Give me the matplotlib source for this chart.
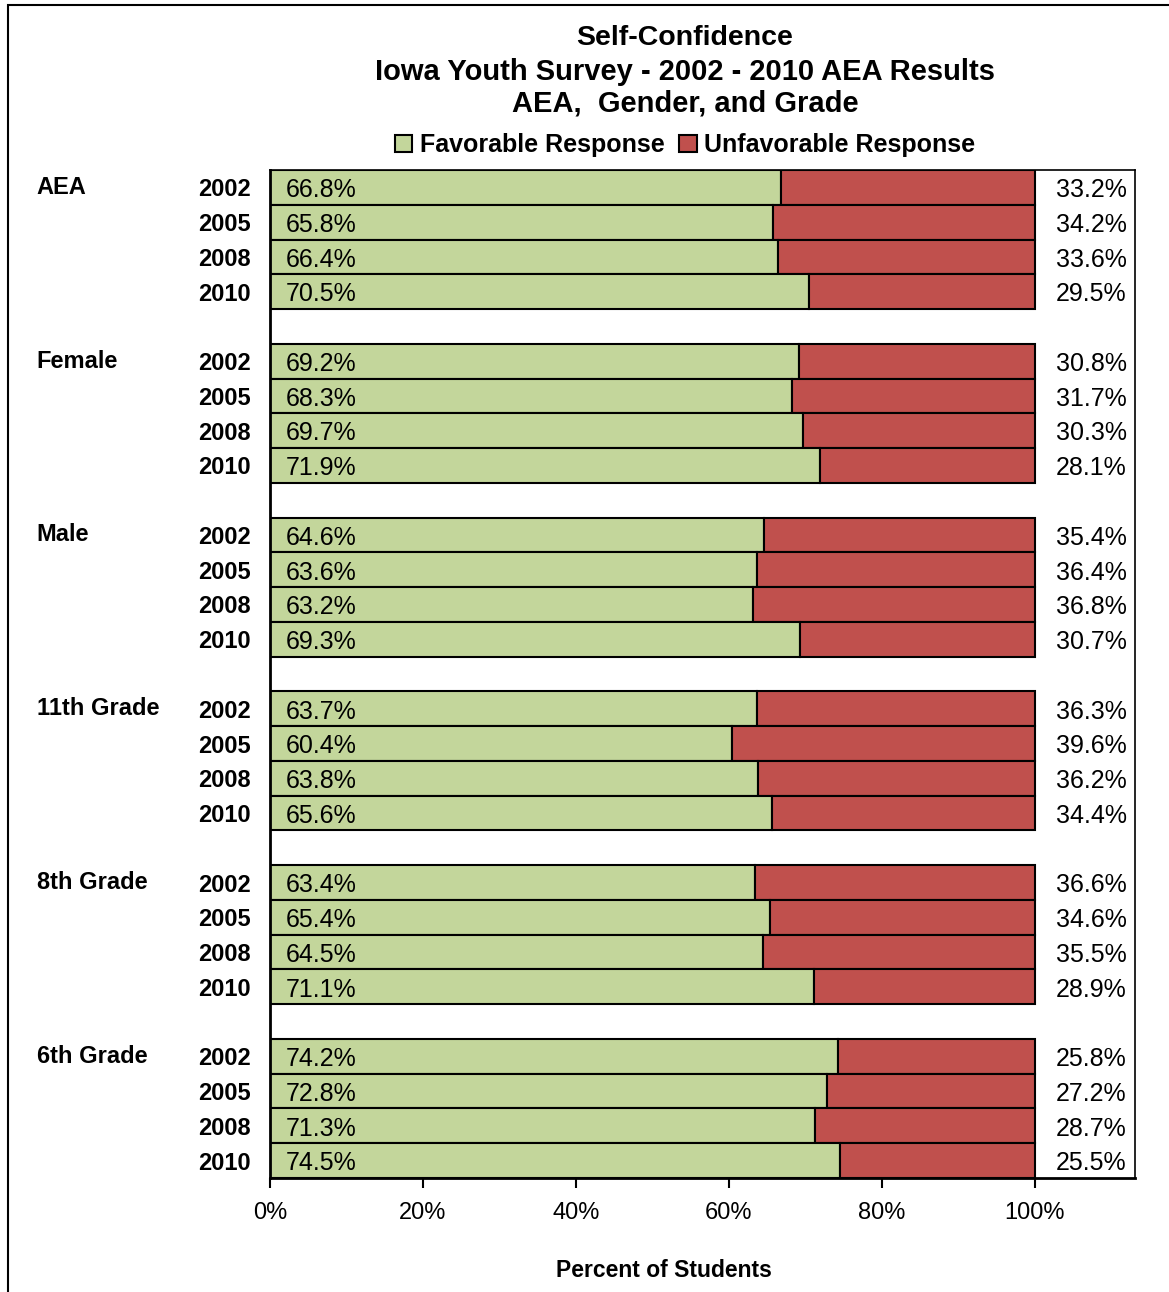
import matplotlib.pyplot as plt
import matplotlib.patches as mpatches

plt.rcParams['font.family'] = ['Liberation Sans', 'DejaVu Sans']

groups = ['AEA', 'Female', 'Male', '11th Grade', '8th Grade', '6th Grade']
years = ['2002', '2005', '2008', '2010']
favorable = [
    [66.8, 65.8, 66.4, 70.5],
    [69.2, 68.3, 69.7, 71.9],
    [64.6, 63.6, 63.2, 69.3],
    [63.7, 60.4, 63.8, 65.6],
    [63.4, 65.4, 64.5, 71.1],
    [74.2, 72.8, 71.3, 74.5],
]
unfavorable = [
    [33.2, 34.2, 33.6, 29.5],
    [30.8, 31.7, 30.3, 28.1],
    [35.4, 36.4, 36.8, 30.7],
    [36.3, 39.6, 36.2, 34.4],
    [36.6, 34.6, 35.5, 28.9],
    [25.8, 27.2, 28.7, 25.5],
]
green = '#C3D69B'
red = '#C0504D'

fig = plt.figure(figsize=(11.69, 12.92), dpi=100)
ax = fig.add_axes([270/1169, 114/1292, 865/1169, 1008/1292])

ypos, ylab = [], []
for g in range(len(groups)):
    for j in range(len(years)):
        y = g * 5 + j
        f = favorable[g][j] / 100
        u = unfavorable[g][j] / 100
        ax.barh(y, f, height=1.0, color=green, edgecolor='black', linewidth=1.5)
        ax.barh(y, u, left=f, height=1.0, color=red, edgecolor='black', linewidth=1.5)
        ax.text(0.02, y + 0.08, f'{favorable[g][j]:.1f}%', ha='left', va='center', fontsize=18)
        ax.text(1.12, y + 0.08, f'{unfavorable[g][j]:.1f}%', ha='right', va='center', fontsize=18)
        ypos.append(y)
        ylab.append(years[j])
    ax.text(-0.305, g * 5, groups[g], ha='left', va='center', fontsize=17, fontweight='bold')

ax.set_xlim(0, 865/765)
ax.set_ylim(28.5, -0.5)
ax.set_yticks(ypos)
ax.set_yticklabels(ylab, fontsize=17, fontweight='bold')
ax.tick_params(axis='y', length=0, pad=14)
ax.set_xticks([0, 0.2, 0.4, 0.6, 0.8, 1.0])
ax.set_xticklabels(['0%', '20%', '40%', '60%', '80%', '100%'], fontsize=17)
ax.tick_params(axis='x', direction='out', length=7, width=1.5, pad=10)
for s in ['left', 'bottom']:
    ax.spines[s].set_linewidth(2)
for s in ['top', 'right']:
    ax.spines[s].set_linewidth(1.2)

ax.set_xlabel('Percent of Students', fontsize=16.5, fontweight='bold')
ax.xaxis.set_label_coords(0.455, -0.08)

fig.text(685/1169, 1 - 38/1292, 'Self-Confidence', ha='center', va='center', fontsize=20.5, fontweight='bold')
fig.text(685/1169, 1 - 72/1292, 'Iowa Youth Survey - 2002 - 2010 AEA Results', ha='center', va='center', fontsize=21, fontweight='bold')
fig.text(685/1169, 1 - 103/1292, 'AEA,  Gender, and Grade', ha='center', va='center', fontsize=21, fontweight='bold')

handles = [mpatches.Patch(facecolor=green, edgecolor='black', linewidth=1.5, label='Favorable Response'),
           mpatches.Patch(facecolor=red, edgecolor='black', linewidth=1.5, label='Unfavorable Response')]
fig.legend(handles=handles, loc='center', bbox_to_anchor=(685/1169, 1 - 145/1292), ncol=2, frameon=False,
           prop={'size': 18, 'weight': 'bold'}, handlelength=0.7, handleheight=0.7, handletextpad=0.3,
           columnspacing=0.6)

fig.add_artist(mpatches.Rectangle((8/1169, -0.1), 1.2, 1 - 5/1292 + 0.1, transform=fig.transFigure,
                                  fill=False, edgecolor='black', linewidth=1.5))

fig.savefig('out.png', dpi=100)
